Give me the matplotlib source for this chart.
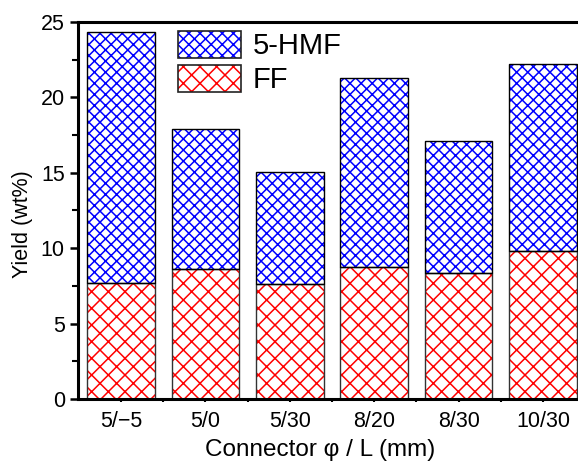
import numpy as np
import matplotlib
matplotlib.use('Agg')
import matplotlib.pyplot as plt
from matplotlib.patches import Patch
from matplotlib.legend_handler import HandlerTuple

plt.rcParams['font.family'] = ['Liberation Sans', 'DejaVu Sans']
plt.rcParams['hatch.linewidth'] = 1.1

# data
labels = ['5/−5', '5/0', '5/30', '8/20', '8/30', '10/30']
ff = [7.68, 8.61, 7.61, 8.78, 8.38, 9.80]
hmf = [16.63, 9.29, 7.47, 12.50, 8.72, 12.41]

x = np.arange(len(labels))
w = 0.8

fig = plt.figure(figsize=(5.78, 4.65), dpi=100)
ax = fig.add_axes([78/578, 66/465, 508/578, 377/465])

# hatch first, then black outline on top
ax.bar(x, ff, w, color='white', edgecolor='red', hatch='xx', linewidth=0)
ax.bar(x, hmf, w, bottom=ff, color='white', edgecolor='blue', hatch='xxx', linewidth=0)
ax.bar(x, ff, w, fill=False, edgecolor='#333333', linewidth=1)
ax.bar(x, hmf, w, bottom=ff, fill=False, edgecolor='black', linewidth=1)

ax.set_xlim(-0.51, 5.51)
ax.set_ylim(0, 25)
ax.set_xticks(x)
ax.set_xticklabels(labels, fontsize=15.5)
ax.set_xticks(x[:-1] + 0.5, minor=True)
ax.set_yticks(np.arange(0, 26, 5))
ax.set_yticks(np.arange(2.5, 25, 5), minor=True)
ax.tick_params(axis='y', which='major', direction='out', length=6, width=1.8, labelsize=15.5)
ax.tick_params(axis='y', which='minor', direction='out', length=4, width=1.5)
ax.tick_params(axis='x', which='both', direction='out', length=2.5, width=1.5, pad=6)

for s in ['left', 'bottom', 'top', 'right']:
    ax.spines[s].set_linewidth(2.2)

ax.set_xlabel('Connector φ / L (mm)', fontsize=17.5)
ax.set_ylabel('Yield (wt%)', fontsize=15.5)
ax.xaxis.set_label_coords(0.476, -0.106)
ax.yaxis.set_label_coords(-0.088, 0.465)

h1 = (Patch(facecolor='white', edgecolor='blue', hatch='xxx', linewidth=0),
      Patch(fill=False, edgecolor='#222222', linewidth=1.2))
h2 = (Patch(facecolor='white', edgecolor='red', hatch='xx', linewidth=0),
      Patch(fill=False, edgecolor='#222222', linewidth=1.2))
fig.legend([h1, h2], ['5-HMF', 'FF'], handler_map={tuple: HandlerTuple(ndivide=1)},
           loc='upper left', bbox_to_anchor=(178/578, 1 - 31/465), frameon=False,
           fontsize=21, handlelength=2.15, handleheight=1.05, handletextpad=0.4,
           labelspacing=0.15, borderpad=0, borderaxespad=0)

fig.savefig('out.png', dpi=100)
